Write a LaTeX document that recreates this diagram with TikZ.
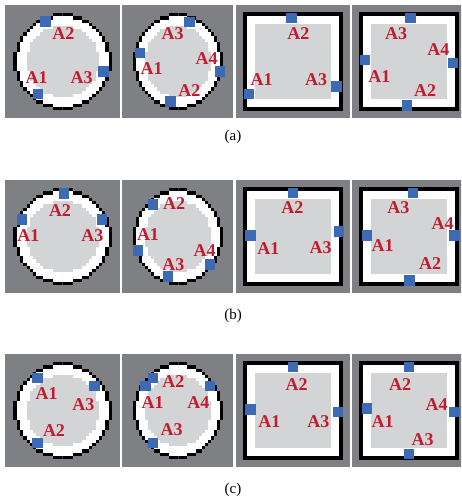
\documentclass[tikz,border=0pt]{standalone}
\usepackage{fontspec}
\setmainfont{Liberation Serif}
\usepackage{tikz}

\definecolor{bggray}{RGB}{127,128,132}
\definecolor{fillgray}{RGB}{211,212,214}
\definecolor{portblue}{RGB}{61,106,180}
\definecolor{labred}{RGB}{196,26,46}

% pixel disk of radius #1 (cells), colour #2, centred at the scope origin
\newcommand{\pixdisk}[2]{%
  \foreach \j in {-15,...,14}{
    \pgfmathsetmacro\hw{floor(sqrt(max(0,#1*#1-(\j+0.5)*(\j+0.5)))+0.5)}
    \fill[#2] (-\hw,\j) rectangle (\hw,\j+1.04);
  }}

\begin{document}
\begin{tikzpicture}[x=1pt,y=-1pt,
    port/.style={fill=portblue,inner sep=0pt,minimum size=10.5pt},
    lab/.style={text=labred,inner sep=0pt,font=\fontsize{18}{18}\selectfont\bfseries},
    subcap/.style={inner sep=0pt,font=\fontsize{15}{15}\selectfont}]
  \useasboundingbox (0,0) rectangle (461,502);
  \clip (0,0) rectangle (461,502);

  % backgrounds
  \foreach \px/\pw in {5/115,122/111,236/114,352/114}
    \foreach \py in {5,180,354}
      \fill[bggray] (\px,\py) rectangle ++(\pw,113);

  % round outlines
  \foreach \cx/\cw in {62.7/3.29pt,178/3.02pt}
    \foreach \cy in {61.5,236.7,410.5}{
      \begin{scope}[shift={(\cx,\cy)},x=\cw,y=-3.23pt]
        \pixdisk{14.8}{black}
        \pixdisk{13.8}{white}
        \pixdisk{11}{fillgray}
      \end{scope}}

  % square outlines
  \foreach \px in {236,352}
    \foreach \py in {5,180,354}{
      \fill[black] (\px+7,\py+7) rectangle ++(100,99);
      \fill[white] (\px+11,\py+11) rectangle ++(92,91);
      \fill[fillgray] (\px+19,\py+19) rectangle ++(76,75);}

  % row (a)
  \begin{scope}[shift={(5,5)}]
    \node[port] (a1p1) at (40.3,16.3) {};
    \node[port] (a1p2) at (98.7,66.3) {};
    \node[port] (a1p3) at (33,88.8) {};
    \node[lab] (a1A2) at (58.3,28.3) {A2};
    \node[lab] (a1A1) at (31.7,72.3) {A1};
    \node[lab] (a1A3) at (76.7,72.3) {A3};
  \end{scope}
  \begin{scope}[shift={(122,5)}]
    \node[port] (a2p1) at (67.5,17.2) {};
    \node[port] (a2p2) at (17.8,47.8) {};
    \node[port] (a2p3) at (97.8,66.3) {};
    \node[port] (a2p4) at (48.5,96.3) {};
    \node[lab] (a2A3) at (50.7,28.3) {A3};
    \node[lab] (a2A1) at (29.7,63.3) {A1};
    \node[lab] (a2A4) at (84.7,53.3) {A4};
    \node[lab] (a2A2) at (67.3,85.7) {A2};
  \end{scope}
  \begin{scope}[shift={(236,5)}]
    \node[port] (a3p1) at (55.3,13) {};
    \node[port] (a3p2) at (13,88.8) {};
    \node[port] (a3p3) at (100.5,81.5) {};
    \node[lab] (a3A2) at (62.3,28.3) {A2};
    \node[lab] (a3A1) at (25.7,75) {A1};
    \node[lab] (a3A3) at (80,75) {A3};
  \end{scope}
  \begin{scope}[shift={(352,5)}]
    \node[port] (a4p1) at (58.5,13) {};
    \node[port] (a4p2) at (13,54.8) {};
    \node[port] (a4p3) at (100.8,58.2) {};
    \node[port] (a4p4) at (55.2,100.5) {};
    \node[lab] (a4A3) at (44,28.3) {A3};
    \node[lab] (a4A4) at (86.3,45) {A4};
    \node[lab] (a4A1) at (27.3,71.7) {A1};
    \node[lab] (a4A2) at (73,85.7) {A2};
  \end{scope}
  \node[subcap] (capa) at (233,137) {(a)};

  % row (b)
  \begin{scope}[shift={(5,180)}]
    \node[port] (b1p1) at (58.8,13.7) {};
    \node[port] (b1p2) at (17.2,39.5) {};
    \node[port] (b1p3) at (97,39.5) {};
    \node[lab] (b1A2) at (55,30.7) {A2};
    \node[lab] (b1A1) at (23.3,56) {A1};
    \node[lab] (b1A3) at (87.3,56) {A3};
  \end{scope}
  \begin{scope}[shift={(122,180)}]
    \node[port] (b2p1) at (31.2,24.7) {};
    \node[port] (b2p2) at (15.8,70.5) {};
    \node[port] (b2p3) at (46.2,96.5) {};
    \node[port] (b2p4) at (88.2,84.7) {};
    \node[lab] (b2A2) at (52,23.3) {A2};
    \node[lab] (b2A1) at (26,55) {A1};
    \node[lab] (b2A4) at (82.7,71) {A4};
    \node[lab] (b2A3) at (51.3,84.3) {A3};
  \end{scope}
  \begin{scope}[shift={(236,180)}]
    \node[port] (b3p1) at (56.8,12.8) {};
    \node[port] (b3p2) at (14.5,55.3) {};
    \node[port] (b3p3) at (102.8,51.3) {};
    \node[lab] (b3A2) at (56.3,27.7) {A2};
    \node[lab] (b3A1) at (32.3,68.3) {A1};
    \node[lab] (b3A3) at (84.7,67.3) {A3};
  \end{scope}
  \begin{scope}[shift={(352,180)}]
    \node[port] (b4p1) at (60.8,12.8) {};
    \node[port] (b4p2) at (15.2,55.3) {};
    \node[port] (b4p3) at (102.5,55.3) {};
    \node[port] (b4p4) at (57.5,100.5) {};
    \node[lab] (b4A3) at (46.3,27.7) {A3};
    \node[lab] (b4A4) at (90.7,43.3) {A4};
    \node[lab] (b4A1) at (30.7,66) {A1};
    \node[lab] (b4A2) at (78,84) {A2};
  \end{scope}
  \node[subcap] (capb) at (233,316) {(b)};

  % row (c)
  \begin{scope}[shift={(5,354)}]
    \node[port] (c1p1) at (32.3,24.2) {};
    \node[port] (c1p2) at (89.5,32.2) {};
    \node[port] (c1p3) at (32.3,88.8) {};
    \node[lab] (c1A1) at (41.7,39.3) {A1};
    \node[lab] (c1A3) at (78.3,51) {A3};
    \node[lab] (c1A2) at (49,76.7) {A2};
  \end{scope}
  \begin{scope}[shift={(122,354)}]
    \node[port] (c2p1) at (23.5,32.2) {};
    \node[port] (c2p2) at (31.2,24.2) {};
    \node[port] (c2p3) at (87.8,32.2) {};
    \node[port] (c2p4) at (31.2,88.8) {};
    \node[lab] (c2A2) at (51.3,27.7) {A2};
    \node[lab] (c2A1) at (30.7,48.7) {A1};
    \node[lab] (c2A4) at (76.3,48.7) {A4};
    \node[lab] (c2A3) at (49.7,75.3) {A3};
  \end{scope}
  \begin{scope}[shift={(236,354)}]
    \node[port] (c3p1) at (56.8,13.2) {};
    \node[port] (c3p2) at (14.5,55.5) {};
    \node[port] (c3p3) at (102.2,58.2) {};
    \node[lab] (c3A2) at (60.7,31) {A2};
    \node[lab] (c3A1) at (33.3,67.7) {A1};
    \node[lab] (c3A3) at (82.3,67.7) {A3};
  \end{scope}
  \begin{scope}[shift={(352,354)}]
    \node[port] (c4p1) at (56.8,13.2) {};
    \node[port] (c4p2) at (15.2,54.7) {};
    \node[port] (c4p3) at (102.5,58.2) {};
    \node[port] (c4p4) at (56.8,99.8) {};
    \node[lab] (c4A2) at (48,31) {A2};
    \node[lab] (c4A4) at (84.7,51) {A4};
    \node[lab] (c4A1) at (30.7,67.7) {A1};
    \node[lab] (c4A3) at (70.7,85.3) {A3};
  \end{scope}
  \node[subcap] (capc) at (233,490) {(c)};
\end{tikzpicture}
\end{document}
